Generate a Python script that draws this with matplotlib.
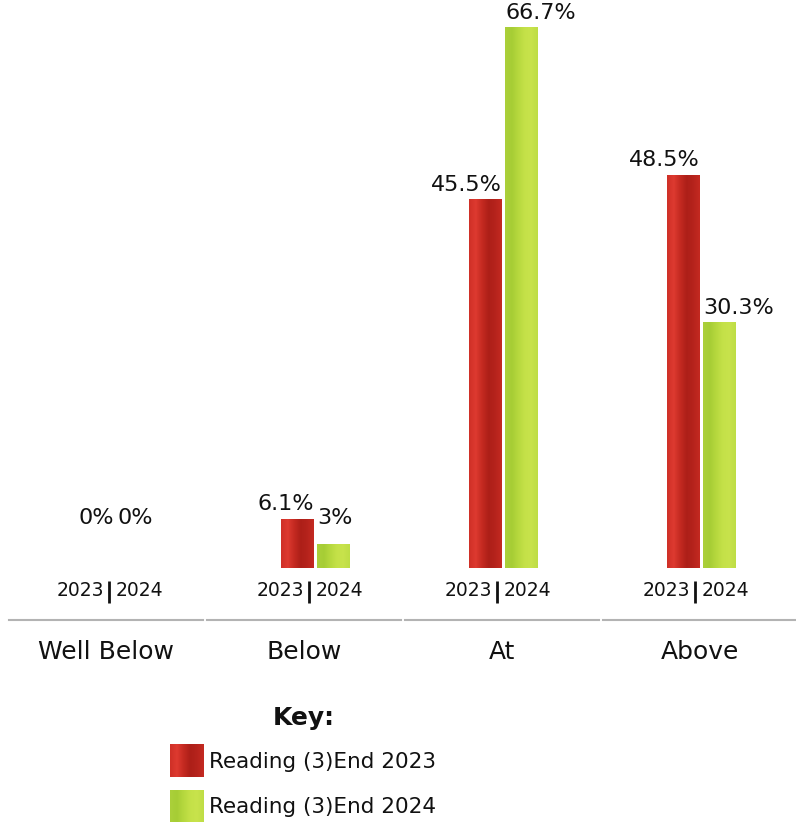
import matplotlib.pyplot as plt
import numpy as np
from matplotlib.colors import LinearSegmentedColormap
from matplotlib.transforms import blended_transform_factory

categories = ["Well Below", "Below", "At", "Above"]
end_2023 = [0, 6.1, 45.5, 48.5]
end_2024 = [0, 3, 66.7, 30.3]
year_labels = ["2023", "2024"]
series_names = ["Reading (3)End 2023", "Reading (3)End 2024"]

W, H = 796, 822
BASE = 568          # pixel row of the bar baseline
PX_PER_PCT = 541 / 66.7

red_cmap = LinearSegmentedColormap.from_list(
    "red_bar", ["#cf3027", "#de3a30", "#c42a21", "#ad1f18", "#b5231c", "#c42a21"])
green_cmap = LinearSegmentedColormap.from_list(
    "green_bar", ["#abd03a", "#a6cd35", "#b6d83e", "#c4e148", "#c8e34c", "#bedd45"])


def fy(px):
    # pixel row (from top) -> figure fraction
    return 1 - px / H


fig = plt.figure(figsize=(W / 100, H / 100), dpi=100)
ax = fig.add_axes([0, fy(BASE), 1, BASE / H])
ax.axis("off")

group_px = 198
bw = 33 / group_px
gap = 3 / group_px
# the first two bar pairs sit a little right of their column centre
nudge = np.array([8, 10, 0, 0]) / group_px
x = np.arange(len(categories)) + nudge

bars_a = ax.bar(x - bw, end_2023, width=bw, align="edge", color="#c0281f", linewidth=0)
bars_b = ax.bar(x + gap, end_2024, width=bw, align="edge", color="#b5d63f", linewidth=0)


def shade(bars, cmap):
    grad = np.linspace(0, 1, 64).reshape(1, -1)
    for p in bars:
        if p.get_height() <= 0:
            continue
        x0, w, h = p.get_x(), p.get_width(), p.get_height()
        im = ax.imshow(grad, cmap=cmap, extent=[x0, x0 + w, 0, h], aspect="auto",
                       interpolation="bilinear", zorder=p.get_zorder() + 0.1)
        im.set_clip_path(p)


shade(bars_a, red_cmap)
shade(bars_b, green_cmap)

ax.set_xlim(-106 / group_px, (W - 106) / group_px)
ax.set_ylim(0, BASE / PX_PER_PCT)

# value labels: 2023 flush with the bar's right edge, 2024 with its left edge
min_y = 4.4
for p, v in zip(bars_a, end_2023):
    ax.annotate(f"{v:g}%", xy=(p.get_x() + p.get_width(), max(v, min_y)),
                xytext=(0, 3), textcoords="offset points", ha="right", va="bottom",
                fontsize=16, color="#111111")
for p, v in zip(bars_b, end_2024):
    ax.annotate(f"{v:g}%", xy=(p.get_x(), max(v, min_y)),
                xytext=(0, 3), textcoords="offset points", ha="left", va="bottom",
                fontsize=16, color="#111111")

tr = blended_transform_factory(ax.transData, fig.transFigure)
for i, cat in enumerate(categories):
    sep = x[i] - 5 / group_px
    ax.text(sep - 5 / group_px, fy(591), year_labels[0], transform=tr, ha="right",
            va="center", fontsize=13.5, color="#111111", clip_on=False)
    ax.text(sep + 7 / group_px, fy(591), year_labels[1], transform=tr, ha="left",
            va="center", fontsize=13.5, color="#111111", clip_on=False)
    ax.plot([sep, sep], [fy(581), fy(603)], transform=tr, color="#111111",
            lw=2.0, clip_on=False, solid_capstyle="butt")
    ax.plot([i - 0.5 + 0.01, i + 0.5 - 0.01], [fy(620), fy(620)], transform=tr,
            color="#b3b3b3", lw=1.5, clip_on=False)
    ax.text(i, fy(652), cat, transform=tr, ha="center", va="center",
            fontsize=18, color="#111111", clip_on=False)

# key
fig.text(304 / W, fy(718), "Key:", ha="center", va="center", fontsize=18,
         fontweight="bold", color="#111111")
swatch_rows = [(744, 777), (790, 822)]
for (top, bottom), cmap, name in zip(swatch_rows, [red_cmap, green_cmap], series_names):
    sw = fig.add_axes([170 / W, fy(bottom), 33 / W, (bottom - top) / H])
    sw.imshow(np.linspace(0, 1, 64).reshape(1, -1), cmap=cmap, aspect="auto",
              interpolation="bilinear")
    sw.axis("off")
    fig.text(209 / W, fy((top + bottom) / 2 + 1), name, ha="left", va="center",
             fontsize=15.5, color="#111111")

fig.savefig("out.png", dpi=100)
